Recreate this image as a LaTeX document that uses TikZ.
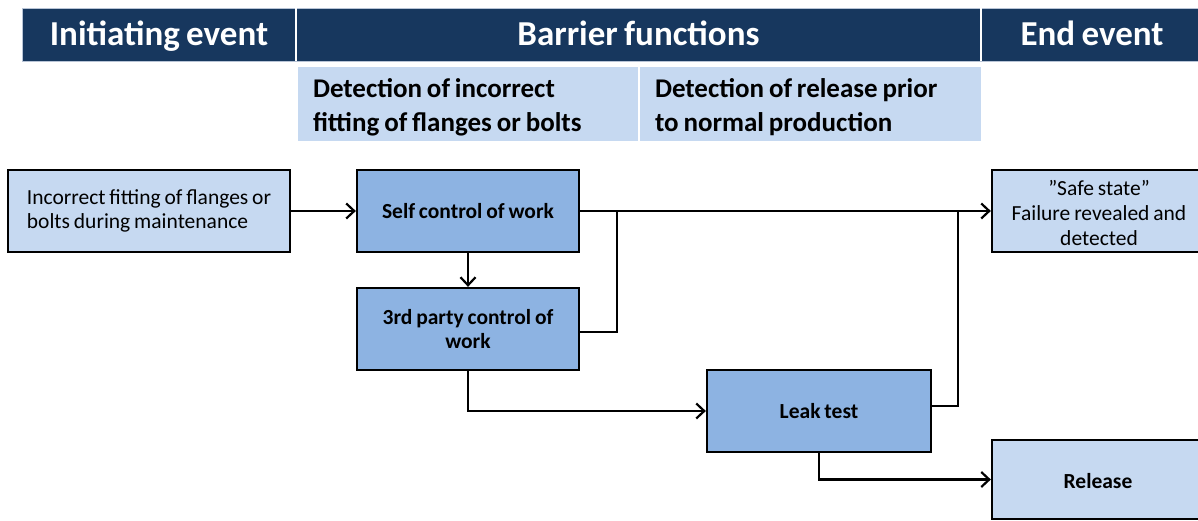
\documentclass[tikz,border=0pt]{standalone}
\usepackage{fontspec}
\setmainfont{Carlito}[WordSpace=0.8]
\usetikzlibrary{arrows.meta}
\definecolor{navy}{HTML}{17375E}
\definecolor{paleblue}{HTML}{C6D9F1}
\definecolor{midblue}{HTML}{8DB3E2}
\definecolor{rimgray}{HTML}{B8C4D6}
\newcommand{\lowered}[2]{\raisebox{-#1}[\height][\depth]{#2}}
\tikzset{
  headcell/.style={fill=navy, draw=rimgray, line width=0.8pt, text=white,
    font=\fontsize{35}{38}\selectfont\bfseries, inner sep=0pt, outer sep=0pt,
    minimum height=53pt, text height=22.5pt, text depth=0pt},
  subcell/.style={fill=paleblue, draw=none, font=\fontsize{27}{34}\selectfont\bfseries,
    inner xsep=15pt, inner ysep=0pt, minimum height=74pt, outer sep=0pt},
  evbox/.style={draw=black, line width=2.3pt, minimum height=82pt, inner sep=2pt,
    align=center, font=\fontsize{21.5}{24.5}\selectfont},
  lightbox/.style={evbox, fill=paleblue},
  barrierbox/.style={evbox, fill=midblue, font=\fontsize{21.5}{24.5}\selectfont\bfseries},
  flow/.style={line width=2.4pt, -{Straight Barb[length=8pt, width=15pt, line width=2.2pt]}},
  link/.style={line width=2.4pt},
}
\begin{document}
\begin{tikzpicture}[x=1pt, y=-1pt]
  \useasboundingbox (0,0) rectangle (1198,521);
  \clip (0,0) rectangle (1198,521);

  % column headings
  \node[headcell, minimum width=274pt] (hinit) at (159,34.5) {Initiating event};
  \node[headcell, minimum width=685pt] (hbar) at (638.5,34.5) {Barrier functions};
  \node[headcell, minimum width=222pt] (hend) at (1092,34.5) {End event};
  \draw[white, line width=1.5pt] (hinit.north east) -- (hinit.south east);
  \draw[white, line width=1.5pt] (hend.north west) -- (hend.south west);

  % barrier function headings
  \node[subcell] (sub1) at (468,104)
    {\lowered{3pt}{\parbox{310pt}{\raggedright Detection of incorrect\\fitting of flanges or bolts}}};
  \node[subcell] (sub2) at (810.5,104)
    {\lowered{3pt}{\parbox{311pt}{\raggedright Detection of release prior\\to normal production}}};

  % events and barriers
  \node[lightbox, minimum width=282pt, align=left] (init) at (149,211)
    {Incorrect fitting of flanges or\\bolts during maintenance};
  \node[barrierbox, minimum width=222pt] (self) at (468,211)
    {Self control of work};
  \node[barrierbox, minimum width=222pt] (third) at (468,329)
    {3rd party control of\\work};
  \node[barrierbox, minimum width=224pt] (leak) at (819,411)
    {Leak test};
  \node[lightbox, minimum width=214pt] (safe) at (1099,211)
    {\lowered{2pt}{\parbox{210pt}{\centering ”Safe state”\\Failure revealed and\\detected}}};
  \node[lightbox, minimum width=212pt, minimum height=79pt] (release) at (1098,479.5)
    {\lowered{2pt}{\bfseries Release}};

  % junctions on the line to the safe state
  \coordinate (j1) at (617,211);
  \coordinate (j2) at (958,211);

  % connectors
  \draw[flow] (init.east) -- (self.west);
  \draw[flow] (self.south) -- (third.north);
  \draw[flow] (self.east) -- (safe.west);
  \draw[link] ([yshift=-3pt]third.east) -| (j1);
  \draw[flow] (third.south) |- (leak.west);
  \draw[link] ([yshift=5pt]leak.east) -| (j2);
  \draw[flow] (leak.south) |- (release.west);
\end{tikzpicture}
\end{document}
